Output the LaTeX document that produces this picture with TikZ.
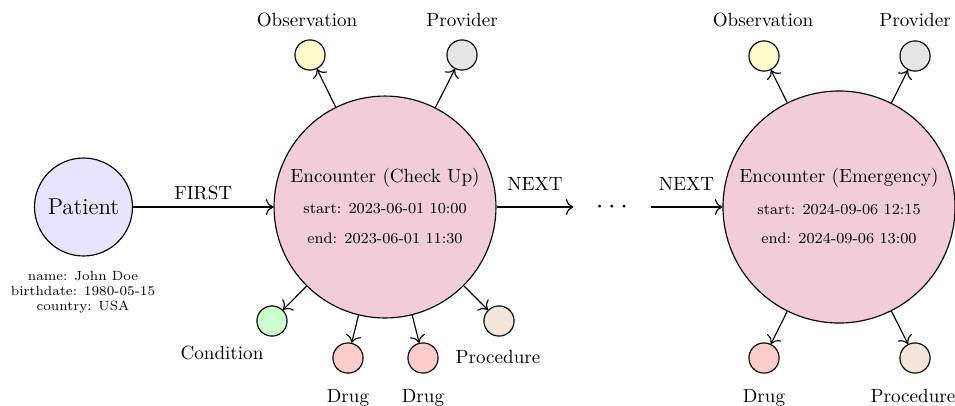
\documentclass[tikz,border=0pt]{standalone}
\usetikzlibrary{arrows.meta}
\begin{document}
\tikzset{
  entity/.style={circle, draw, inner sep=0pt},
  leaf/.style={circle, draw, minimum size=15.8pt, inner sep=0pt},
  rel/.style={-{To[scale=1.35]}},
  attr/.style={font=\footnotesize},
}
\begin{tikzpicture}[x=0.5236pt, y=-0.5236pt, semithick]
\useasboundingbox (0,0) rectangle (955,405);

% Patient
\node[entity, fill=blue!10, minimum size=51.3pt, font=\large] (patient) at (83.5,207) {Patient};
\node[font=\scriptsize, align=center] (pattr) at (83,292)
  {name: John Doe\\birthdate: 1980-05-15\\country: USA};

% First encounter
\node[entity, fill=purple!20, minimum size=116.2pt] (enc1) at (385,207) {};
\node (enc1title) at (385,178) {Encounter (Check Up)};
\node[attr] (enc1start) at (385,209) {start: 2023-06-01 10:00};
\node[attr] (enc1end) at (385,238) {end: 2023-06-01 11:30};

\node[leaf, fill=yellow!20] (obs1) at (310,55) {};
\node[leaf, fill=gray!20] (prov1) at (462,55) {};
\node[leaf, fill=green!20] (cond1) at (272,321) {};
\node[leaf, fill=red!20] (drugA) at (348,358) {};
\node[leaf, fill=red!20] (drugB) at (423,358) {};
\node[leaf, fill=brown!20] (proc1) at (499,321) {};

\node (obs1lbl) at (307,20) {Observation};
\node (prov1lbl) at (462,20) {Provider};
\node (cond1lbl) at (222,353) {Condition};
\node (drugAlbl) at (348,398) {Drug};
\node (drugBlbl) at (423,398) {Drug};
\node (proc1lbl) at (498,357) {Procedure};

% Gap between encounters
\node[minimum width=39.8pt, inner sep=0pt, font=\Large] (gap) at (612,207) {$\cdots$};

% Second encounter
\node[entity, fill=purple!20, minimum size=121.5pt] (enc2) at (839,207) {};
\node (enc2title) at (839,178) {Encounter (Emergency)};
\node[attr] (enc2start) at (839,209) {start: 2024-09-06 12:15};
\node[attr] (enc2end) at (839,238) {end: 2024-09-06 13:00};

\node[leaf, fill=yellow!20] (obs2) at (764,56) {};
\node[leaf, fill=gray!20] (prov2) at (915,56) {};
\node[leaf, fill=red!20] (drugC) at (764,358) {};
\node[leaf, fill=brown!20] (proc2) at (915,358) {};

\node (obs2lbl) at (763,20) {Observation};
\node (prov2lbl) at (915,20) {Provider};
\node (drugClbl) at (764,398) {Drug};
\node (proc2lbl) at (913,396) {Procedure};

% Connectors
\draw[rel] (patient) -- node[above] {FIRST} (enc1);
\draw[rel] (enc1) -- node[above=5pt] {NEXT} (gap);
\draw[rel] (gap) -- node[above=5pt] {NEXT} (enc2);

\foreach \t in {obs1, prov1, cond1, drugA, drugB, proc1}
  \draw[rel] (enc1) -- (\t);
\foreach \t in {obs2, prov2, drugC, proc2}
  \draw[rel] (enc2) -- (\t);
\end{tikzpicture}
\end{document}
